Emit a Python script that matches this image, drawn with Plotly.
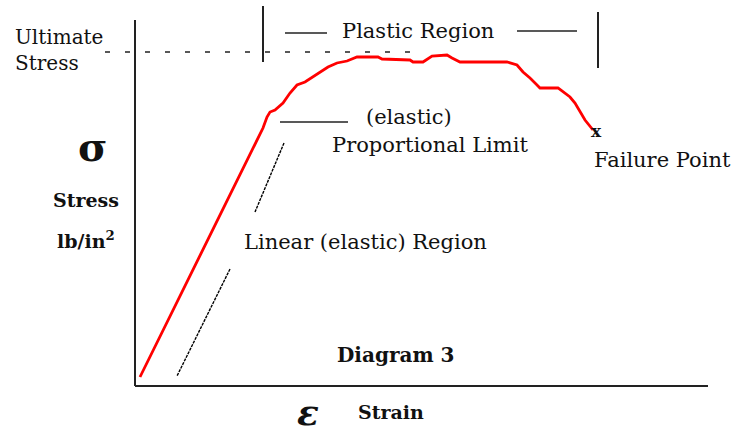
import plotly.graph_objects as go

# ---- data (strain, stress in arbitrary diagram units) ----
strain = [0.05, 1.28, 1.32, 1.35, 1.40, 1.48, 1.55, 1.62, 1.70, 1.78, 1.85, 1.93,
          2.02, 2.12, 2.22, 2.43, 2.47, 2.75, 2.78, 2.88, 2.97, 3.12, 3.17, 3.25,
          3.72, 3.82, 3.88, 3.95, 4.02, 4.05, 4.23, 4.28, 4.35, 4.40, 4.45, 4.50, 4.58]
stress = [0.09, 2.58, 2.69, 2.74, 2.76, 2.83, 2.93, 3.01, 3.04, 3.09, 3.14, 3.19,
          3.23, 3.25, 3.29, 3.29, 3.27, 3.26, 3.24, 3.24, 3.30, 3.31, 3.28, 3.24,
          3.24, 3.21, 3.14, 3.08, 3.01, 2.98, 2.98, 2.94, 2.89, 2.83, 2.74, 2.66, 2.56]

ultimate_stress = 3.34
failure_point = (4.61, 2.55)
plastic_start = 1.28
plastic_end = 4.63
x_axis_end = 5.73
y_axis_end = 3.66

AX = "#222222"
SERIF = "DejaVu Serif"

fig = go.Figure()
fig.add_trace(go.Scatter(x=strain, y=stress, mode="lines",
                         line=dict(color="#ff0000", width=2.8), hoverinfo="skip"))

shapes = []
def seg(x0, y0, x1, y1, width=2, dash=None, color=AX):
    d = dict(type="line", xref="x", yref="y", x0=x0, y0=y0, x1=x1, y1=y1,
             line=dict(color=color, width=width))
    if dash:
        d["line"]["dash"] = dash
    shapes.append(d)

# axes
seg(0, 0, 0, y_axis_end, 2)
seg(0, 0, x_axis_end, 0, 2)
# ultimate stress dashed line
seg(-0.30, ultimate_stress, 2.80, ultimate_stress, 1.3, "5px,15px")
# plastic region markers
seg(plastic_start, 3.80, plastic_start, 3.24, 2)
seg(plastic_end, 3.74, plastic_end, 3.18, 2)
seg(1.50, 3.53, 1.92, 3.53, 1.5)
seg(3.82, 3.55, 4.42, 3.55, 1.5)
# proportional limit pointer
seg(1.45, 2.64, 2.13, 2.64, 1.5)
# linear region pointers
seg(1.49, 2.43, 1.20, 1.74, 1.4, "3px,1px", "#000000")
seg(0.95, 1.17, 0.42, 0.10, 1.4, "3px,1px", "#000000")

ann = []
def txt(x, y, t, size=21, bold=False, xa="center", ya="middle", align="center", italic=False):
    s = t
    if bold:
        s = "<b>" + s + "</b>"
    if italic:
        s = "<i>" + s + "</i>"
    ann.append(dict(x=x, y=y, xref="x", yref="y", text=s, showarrow=False,
                    xanchor=xa, yanchor=ya, align=align,
                    font=dict(family=SERIF, size=size, color="#111111")))

txt(-1.22, 3.36, "Ultimate<br>Stress", size=20, xa="left", align="left")
txt(2.825, 3.55, "Plastic Region")
txt(2.74, 2.69, "(elastic)")
txt(2.95, 2.41, "Proportional Limit")
txt(4.57, 2.26, "Failure Point", xa="left")
txt(1.07, 1.44, "Linear (elastic) Region", xa="left")
txt(-0.42, 2.40, "σ", size=40, bold=True)
txt(-0.49, 1.86, "Stress", size=19, bold=True)
txt(-0.49, 1.46, "lb/in<sup>2</sup>", size=19, bold=True)
txt(2.60, 0.31, "Diagram 3", size=20, bold=True)
txt(1.73, -0.26, "ε", size=36, bold=True, italic=True)
txt(2.56, -0.26, "Strain", size=19, bold=True)
txt(failure_point[0], failure_point[1], "x", size=17, bold=True)

fig.update_layout(
    width=738, height=434, autosize=False,
    margin=dict(l=0, r=0, t=0, b=0),
    paper_bgcolor="white", plot_bgcolor="white",
    showlegend=False,
    shapes=shapes, annotations=ann,
    xaxis=dict(range=[-1.35, 6.03], visible=False, fixedrange=True),
    yaxis=dict(range=[-0.48, 3.86], visible=False, fixedrange=True),
)
fig.write_html("out.html", config={"displayModeBar": False},
               post_script="document.body.style.margin='0px';document.body.style.overflow='hidden';")
